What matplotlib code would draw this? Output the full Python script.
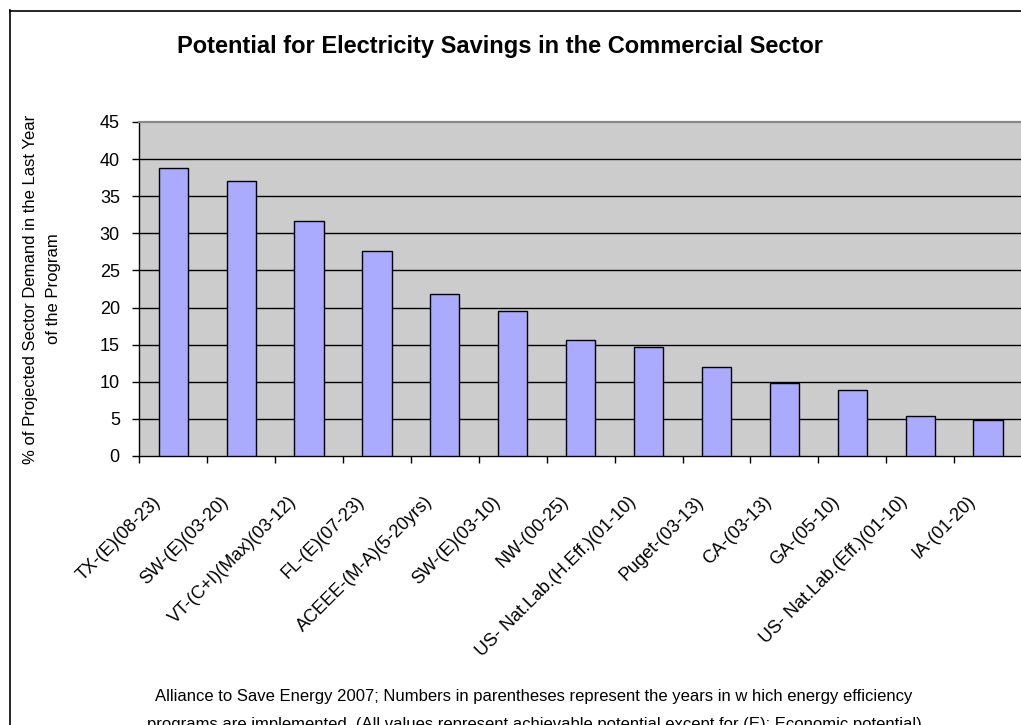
import matplotlib
matplotlib.use("Agg")
import matplotlib.pyplot as plt
from matplotlib.transforms import ScaledTranslation
from matplotlib.lines import Line2D

plt.rcParams['font.family'] = ['Liberation Sans', 'DejaVu Sans']

categories = ["TX-(E)(08-23)", "SW-(E)(03-20)", "VT-(C+I)(Max)(03-12)", "FL-(E)(07-23)",
              "ACEEE-(M-A)(5-20yrs)", "SW-(E)(03-10)", "NW-(00-25)",
              "US- Nat.Lab.(H.Eff.)(01-10)", "Puget-(03-13)", "CA-(03-13)", "GA-(05-10)",
              "US- Nat.Lab.(Eff.)(01-10)", "IA-(01-20)"]
values = [38.8, 37.1, 31.7, 27.6, 21.8, 19.6, 15.6, 14.7, 12.0, 9.8, 8.9, 5.4, 4.9]
yticks = [0, 5, 10, 15, 20, 25, 30, 35, 40, 45]

title = "Potential for Electricity Savings in the Commercial Sector"
ylabel = "% of Projected Sector Demand in the Last Year\nof the Program"
footer1 = "Alliance to Save Energy 2007; Numbers in parentheses represent the years in w hich energy efficiency"
footer2 = "programs are implemented. (All values represent achievable potential except for (E): Economic potential)"

W, H = 1021, 725
fig = plt.figure(figsize=(W / 100, H / 100), dpi=100)
fig.patch.set_facecolor('white')

left, right, top, bottom = 139.3, 1022.0, 122.0, 456.0
ax = fig.add_axes([left / W, (H - bottom) / H, (right - left) / W, (bottom - top) / H])
ax.set_facecolor('#CCCCCC')

x = list(range(len(categories)))
ax.bar(x, values, width=0.43, color='#AAAAFF', edgecolor='black', linewidth=1.0, zorder=3)

ax.set_xlim(-0.5, len(categories) - 0.5)
ax.set_ylim(0, 45)
ax.set_yticks(yticks)
ax.set_yticklabels([str(v) for v in yticks], fontsize=13)
for v in yticks[1:-1]:
    ax.axhline(v, color='black', linewidth=1.0, zorder=1)

ax.spines['top'].set_color('#888888')
ax.spines['top'].set_linewidth(1.6)
ax.spines['right'].set_visible(False)
ax.spines['left'].set_color('black')
ax.spines['bottom'].set_color('black')
ax.spines['left'].set_linewidth(1.0)
ax.spines['bottom'].set_linewidth(1.0)

ax.tick_params(axis='y', direction='out', length=5, width=1, pad=9, colors='black')
ax.set_xticks([i - 0.5 for i in range(len(categories))], minor=False)
ax.set_xticklabels([])
ax.tick_params(axis='x', direction='out', length=5, width=1)

# category labels at bar centers
for i, lab in enumerate(categories):
    t = ax.text(i, 0, lab, rotation=45, ha='right', va='top', rotation_mode='anchor',
                fontsize=13, transform=ax.get_xaxis_transform())
    t.set_transform(ax.get_xaxis_transform() + ScaledTranslation(-0.21, -0.37, fig.dpi_scale_trans))

fig.text(500 / W, 1 - 47 / H, title, ha='center', va='center', fontsize=17, fontweight='bold')
fig.text(42 / W, 1 - 289 / H, ylabel, rotation=90, ha='center', va='center',
         multialignment='center', fontsize=12, linespacing=1.6)
fig.text(534 / W, 1 - 696 / H, footer1, ha='center', va='center', fontsize=12)
fig.text(534 / W, 1 - 725 / H, footer2, ha='center', va='center', fontsize=12)

# outer chart border (left and top visible)
fig.add_artist(Line2D([9.5 / W, 9.5 / W], [0, 1 - 10 / H], transform=fig.transFigure,
                      color='black', linewidth=1.2))
fig.add_artist(Line2D([9.5 / W, 1], [1 - 10.5 / H, 1 - 10.5 / H], transform=fig.transFigure,
                      color='black', linewidth=1.2))

fig.savefig('out.png', dpi=100)
